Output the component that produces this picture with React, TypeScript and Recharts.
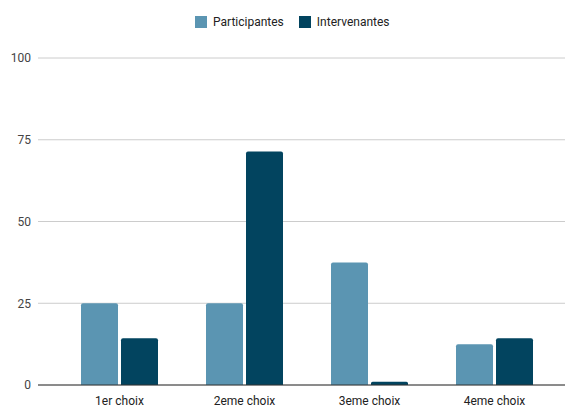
import React from 'react';
import { BarChart, Bar, XAxis, YAxis, CartesianGrid, Legend } from 'recharts';

const categories = ['1er choix', '2eme choix', '3eme choix', '4eme choix'];
const participantes = [25, 25, 37.5, 12.5];
const intervenantes = [14.3, 71.4, 1, 14.3];
const yTicks = [0, 25, 50, 75, 100];
const seriesNames = ['Participantes', 'Intervenantes'];
const seriesColors = ['#5b95b2', '#02445f'];

const data = categories.map((c, i) => ({ name: c, p: participantes[i], iv: intervenantes[i] }));

const FONT = 'Roboto, Arial, sans-serif';

const LegendContent = () => {
  return (
    <div style={{ height: 20, display: 'flex', alignItems: 'center', paddingLeft: 195, fontFamily: FONT, fontSize: 12, color: '#222' }}>
      {seriesNames.map((name, i) => (
        <div key={i} style={{ display: 'flex', alignItems: 'center', marginRight: 15 }}>
          <div style={{ width: 12, height: 12, background: seriesColors[i], marginRight: 6 }} />
          <span>{name}</span>
        </div>
      ))}
    </div>
  );
};

export default function App() {
  return (
    <div style={{ position: 'absolute', left: 0, top: 0, width: 566, height: 408, background: '#fff' }}>
      <BarChart
        width={566}
        height={408}
        data={data}
        margin={{ top: 38, right: 1, bottom: 0, left: 0 }}
        barGap={3}
        barCategoryGap={24}
      >
        <Legend
          verticalAlign="top"
          align="left"
          content={<LegendContent />}
          wrapperStyle={{ top: 12, left: 0, width: 566 }}
        />
        <CartesianGrid vertical={false} stroke="#cccccc" />
        <XAxis
          dataKey="name"
          height={23}
          tickLine={false}
          tickSize={0}
          tickMargin={11}
          axisLine={{ stroke: '#333333' }}
          padding={{ left: 19, right: 8 }}
          tick={{ fontFamily: FONT, fontSize: 12, fill: '#222' }}
        />
        <YAxis
          width={38}
          domain={[0, 100]}
          ticks={yTicks}
          axisLine={false}
          tickLine={false}
          tickSize={0}
          tickMargin={7}
          tick={{ fontFamily: FONT, fontSize: 12, fill: '#444' }}
        />
        <Bar dataKey="p" name={seriesNames[0]} fill={seriesColors[0]} radius={[2, 2, 0, 0]} isAnimationActive={false} />
        <Bar dataKey="iv" name={seriesNames[1]} fill={seriesColors[1]} radius={[2, 2, 0, 0]} isAnimationActive={false} />
      </BarChart>
    </div>
  );
}
